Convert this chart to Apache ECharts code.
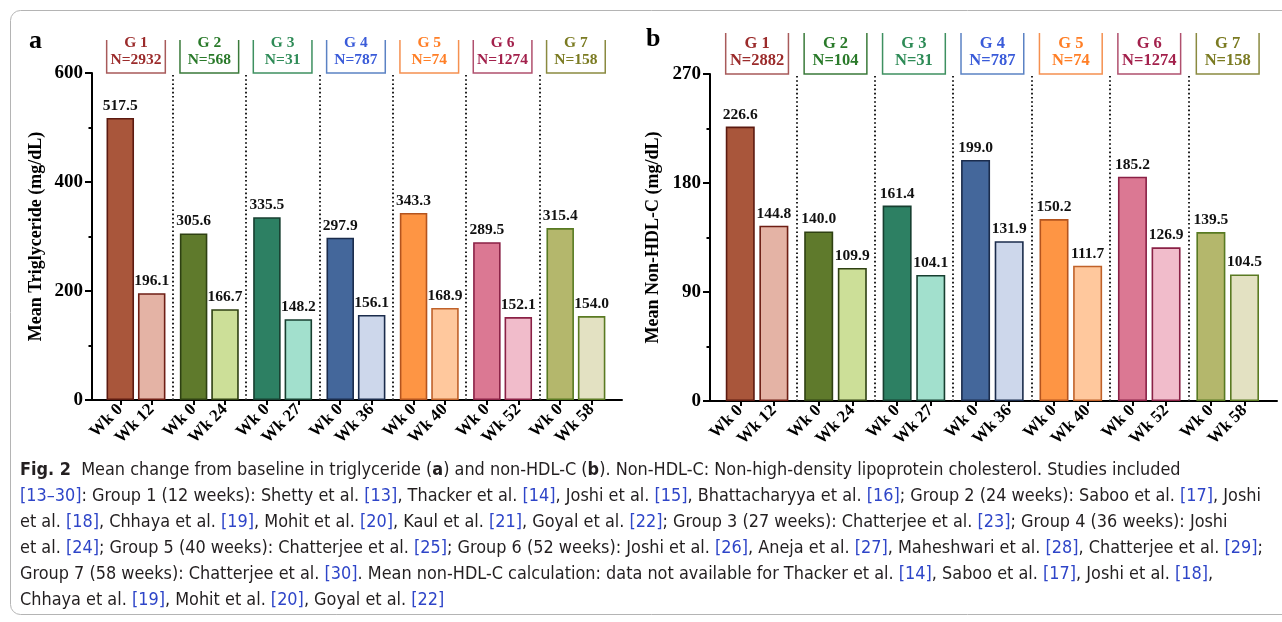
<!DOCTYPE html>
<html><head><meta charset="utf-8">
<script src="https://cdn.jsdelivr.net/npm/echarts@6/dist/echarts.min.js"></script>
<style>html,body{margin:0;padding:0;background:#fff;}#c{width:1282px;height:622px;}</style>
</head><body><div id="c"></div>
<script>
// ---------- data ----------
const groups = ['G 1','G 2','G 3','G 4','G 5','G 6','G 7'];
const weeks = [12, 24, 27, 36, 40, 52, 58];
const nTG = [2932, 568, 31, 787, 74, 1274, 158];
const nHDL = [2882, 104, 31, 787, 74, 1274, 158];
const tgBaseline = [517.5, 305.6, 335.5, 297.9, 343.3, 289.5, 315.4];
const tgFollowup = [196.1, 166.7, 148.2, 156.1, 168.9, 152.1, 154.0];
const hdlBaseline = [226.6, 140.0, 161.4, 199.0, 150.2, 185.2, 139.5];
const hdlFollowup = [144.8, 109.9, 104.1, 131.9, 111.7, 126.9, 104.5];
const tgTicks = [0, 200, 400, 600];
const hdlTicks = [0, 90, 180, 270];
const captionLines = [
 '**Fig. 2**  Mean change from baseline in triglyceride (**a**) and non-HDL-C (**b**). Non-HDL-C: Non-high-density lipoprotein cholesterol. Studies included',
 '[13–30]: Group 1 (12 weeks): Shetty et al. [13], Thacker et al. [14], Joshi et al. [15], Bhattacharyya et al. [16]; Group 2 (24 weeks): Saboo et al. [17], Joshi',
 'et al. [18], Chhaya et al. [19], Mohit et al. [20], Kaul et al. [21], Goyal et al. [22]; Group 3 (27 weeks): Chatterjee et al. [23]; Group 4 (36 weeks): Joshi',
 'et al. [24]; Group 5 (40 weeks): Chatterjee et al. [25]; Group 6 (52 weeks): Joshi et al. [26], Aneja et al. [27], Maheshwari et al. [28], Chatterjee et al. [29];',
 'Group 7 (58 weeks): Chatterjee et al. [30]. Mean non-HDL-C calculation: data not available for Thacker et al. [14], Saboo et al. [17], Joshi et al. [18],',
 'Chhaya et al. [19], Mohit et al. [20], Goyal et al. [22]'
];

// ---------- styles ----------
const darkFill = ['#A9563B','#5F7A2C','#2D8063','#44679B','#FE9544','#DB7893','#B4B76C'];
const lightFill = ['#E4B3A5','#CCDF98','#A2E0CD','#CDD7EB','#FFC89D','#F1BCCB','#E3E1C2'];
const darkBorder = ['#5C1A10','#2E4012','#173F30','#1B2C4C','#B4541E','#8A2146','#587A22'];
const lightBorder = ['#6E1E14','#2E4012','#173F30','#1B2C4C','#C0622A','#8A2146','#5A7A22'];
const headText = ['#9B2B2B','#2A7A2A','#2E8B57','#3A5BD9','#FF7F27','#A3214C','#7B7B22'];
const headStroke = ['#A85A5A','#3A7A3A','#3E9060','#5B82C4','#F59050','#B0506E','#8A8A40'];
const SERIF = '"Liberation Serif","Times New Roman",serif';
const GROUP_UNITS = 7;

function pos(g, k) { return g * GROUP_UNITS + 1.5 + 3 * k; }

const chart = echarts.init(document.getElementById('c'));
const option = { animation: false, grid: [], xAxis: [], yAxis: [], series: [], graphic: [] };

function addPanel(idx, base, follow, ns, ticks, yName, grid, barWidth, headH, headFont, nameGap) {
  const yMax = ticks[ticks.length - 1];
  const interval = ticks[1] - ticks[0];
  option.grid.push(grid);
  const labelPos = [], labelMap = {};
  groups.forEach((g, i) => {
    labelPos.push(pos(i, 0), pos(i, 1));
    labelMap[Math.round(pos(i, 0) * 10)] = 'Wk 0';
    labelMap[Math.round(pos(i, 1) * 10)] = 'Wk ' + weeks[i];
  });
  option.xAxis.push({
    type: 'value', gridIndex: idx, min: -1.2, max: 49.4,
    splitLine: { show: false },
    axisLine: { show: true, onZero: false, lineStyle: { color: '#000', width: 2 } },
    axisTick: { show: true, customValues: labelPos, length: 5, lineStyle: { color: '#000', width: 2 } },
    axisLabel: {
      customValues: labelPos, rotate: 45, margin: 7,
      formatter: v => labelMap[Math.round(v * 10)] || '',
      fontFamily: SERIF, fontWeight: 'bold', fontSize: 17, color: '#000'
    }
  });
  option.yAxis.push({
    type: 'value', gridIndex: idx, min: 0, max: yMax, interval: interval,
    name: yName, nameLocation: 'middle', nameGap: nameGap,
    nameTextStyle: { fontFamily: SERIF, fontWeight: 'bold', fontSize: 18, color: '#000' },
    splitLine: { show: false },
    axisLine: { show: true, onZero: false, lineStyle: { color: '#000', width: 2 } },
    axisTick: { show: true, length: 7, lineStyle: { color: '#000', width: 2 } },
    minorTick: { show: true, splitNumber: 2, length: 3.5, lineStyle: { color: '#000', width: 2 } },
    axisLabel: { margin: 9, fontFamily: SERIF, fontWeight: 'bold', fontSize: 19, color: '#000' }
  });
  const data = [];
  groups.forEach((g, i) => {
    data.push({ value: [pos(i, 0), base[i]], itemStyle: { color: darkFill[i], borderColor: darkBorder[i], borderWidth: 1.6 } });
    data.push({ value: [pos(i, 1), follow[i]], itemStyle: { color: lightFill[i], borderColor: lightBorder[i], borderWidth: 1.6 } });
  });
  const seps = [];
  for (let i = 0; i < groups.length - 1; i++) seps.push({ xAxis: i * GROUP_UNITS + 6.5 });
  option.series.push({
    type: 'bar', xAxisIndex: idx, yAxisIndex: idx, barWidth: barWidth, data: data,
    label: {
      show: true, position: 'top', distance: 4,
      formatter: p => p.value[1].toFixed(1),
      fontFamily: SERIF, fontWeight: 'bold', fontSize: 15.5, color: '#111'
    },
    markLine: {
      silent: true, symbol: 'none', label: { show: false },
      lineStyle: { color: '#222', width: 2, type: [1.6, 2.6] },
      data: seps
    }
  });
  option.series.push({
    type: 'custom', xAxisIndex: idx, yAxisIndex: idx, clip: false, silent: true,
    encode: { x: 0, y: 1 },
    data: groups.map((g, i) => [i * GROUP_UNITS + 3, yMax]),
    renderItem: (params, api) => {
      const i = params.dataIndex;
      const l = api.coord([api.value(0) - 2.8, api.value(1)]);
      const r = api.coord([api.value(0) + 2.8, api.value(1)]);
      const cx = (l[0] + r[0]) / 2, b = l[1];
      return { type: 'group', children: [
        { type: 'polyline', shape: { points: [[l[0], b - headH], [l[0], b], [r[0], b], [r[0], b - headH]] },
          style: { stroke: headStroke[i], lineWidth: 1.5, fill: null } },
        { type: 'text', style: { text: groups[i], x: cx, y: b - 30, align: 'center', verticalAlign: 'middle',
          fill: headText[i], font: 'bold ' + headFont + 'px ' + SERIF } },
        { type: 'text', style: { text: 'N=' + ns[i], x: cx, y: b - 13, align: 'center', verticalAlign: 'middle',
          fill: headText[i], font: 'bold ' + headFont + 'px ' + SERIF } }
      ]};
    }
  });
}

addPanel(0, tgBaseline, tgFollowup, nTG, tgTicks, 'Mean Triglyceride (mg/dL)',
  { left: 92, top: 73, width: 530, height: 327 }, 27.5, 33, 15.5, 47);
addPanel(1, hdlBaseline, hdlFollowup, nHDL, hdlTicks, 'Mean Non-HDL-C (mg/dL)',
  { left: 710, top: 74, width: 567, height: 327 }, 29, 41, 16.5, 48);

// panel letters
option.graphic.push({ type: 'text', left: 29, top: 28, style: { text: 'a', font: 'bold 26px ' + SERIF, fill: '#000' } });
option.graphic.push({ type: 'text', left: 646, top: 26, style: { text: 'b', font: 'bold 26px ' + SERIF, fill: '#000' } });
// frame
option.graphic.push({ type: 'rect', shape: { x: 10.5, y: 10.5, width: 1300, height: 604, r: 10 },
  style: { fill: null, stroke: '#b4b4b4', lineWidth: 1 }, silent: true, z: -1 });

// caption
const CAP_FAMILY = '"Liberation Sans Narrow","DejaVu Sans Condensed","Open Sans",sans-serif';
const ctx = document.createElement('canvas').getContext('2d');
ctx.font = '100px ' + CAP_FAMILY;
const w2 = ctx.measureText(captionLines[1]).width;
let capSize = Math.max(13, Math.min(20, 1242 / w2 * 100));
const rich = {
  b: { fontWeight: 'bold', fontSize: capSize, fontFamily: CAP_FAMILY, fill: '#231f20' },
  l: { fontSize: capSize, fontFamily: CAP_FAMILY, fill: '#2e45c8' }
};
captionLines.forEach((line, i) => {
  const t = line.replace(/\*\*(.+?)\*\*/g, '{b|$1}').replace(/(\[[^\]]+\])/g, '{l|$1}');
  option.graphic.push({ type: 'text', x: 20, y: 470 + i * 26,
    style: { text: t, rich: rich, fontSize: capSize, fontFamily: CAP_FAMILY, fill: '#231f20', verticalAlign: 'middle' } });
});

chart.setOption(option);
</script></body></html>
